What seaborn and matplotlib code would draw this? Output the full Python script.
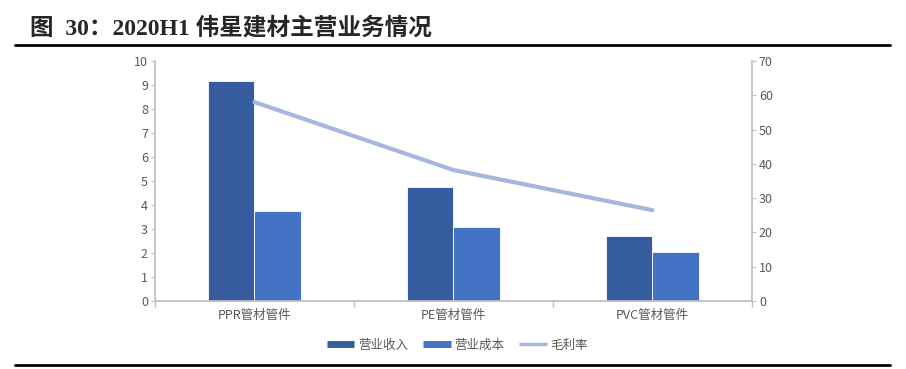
import pandas as pd
import seaborn as sns
import matplotlib.pyplot as plt
from matplotlib.lines import Line2D

categories = ["PPR管材管件", "PE管材管件", "PVC管材管件"]
revenue = [9.15, 4.75, 2.70]
cost = [3.75, 3.08, 2.06]
margin = [58.0, 38.2, 26.5]

sns.set_theme(style="white")
plt.rcParams['font.family'] = ['Noto Sans CJK SC', 'DejaVu Sans']

df = pd.DataFrame({
    "cat": categories * 2,
    "val": revenue + cost,
    "series": ["营业收入"] * 3 + ["营业成本"] * 3,
})
dm = pd.DataFrame({"cat": categories, "val": margin})

c_rev = "#345C9F"
c_cost = "#4472C4"
c_line = "#A7B6DE"
grey = "#595959"
spine = "#BFBFBF"

fig = plt.figure(figsize=(9.06, 3.69), dpi=100)
ax = fig.add_axes([0.171, 0.184, 0.659, 0.651])

sns.barplot(data=df, x="cat", y="val", hue="series", palette=[c_rev, c_cost],
            width=0.47, ax=ax, legend=False, saturation=1,
            edgecolor="white", linewidth=0.6)
ax.set_xlim(-0.5, 2.5)
ax.set_ylim(0, 10)
ax.set_yticks(range(0, 11))
ax.set_xlabel("")
ax.set_ylabel("")

ax2 = ax.twinx()
sns.lineplot(data=dm, x="cat", y="val", color=c_line, linewidth=3, ax=ax2)
ax2.set_ylim(0, 70)
ax2.set_yticks(range(0, 71, 10))
ax2.set_ylabel("")
ax.set_xlim(-0.5, 2.5)

for a in (ax, ax2):
    for s in a.spines.values():
        s.set_visible(False)
    a.tick_params(axis="y", colors=grey, labelsize=9, length=3, width=0.8)
    a.tick_params(axis="y", color=spine)
ax.spines["left"].set_visible(True)
ax.spines["left"].set_color(spine)
ax.spines["bottom"].set_visible(True)
ax.spines["bottom"].set_color(spine)
ax2.spines["right"].set_visible(True)
ax2.spines["right"].set_color(spine)
ax.tick_params(axis="y", left=True, pad=2)
ax2.tick_params(axis="y", right=True, pad=2)

# category labels centred, boundary ticks
ax.set_xticks([0, 1, 2])
ax.set_xticklabels(categories)
ax.tick_params(axis="x", length=0, colors=grey, labelsize=9, pad=6)
ax.set_xticks([-0.5, 0.5, 1.5, 2.5], minor=True)
ax.tick_params(axis="x", which="minor", length=4, color=spine, bottom=True)

handles = [Line2D([], [], color=c_rev, lw=5, solid_capstyle="butt"),
           Line2D([], [], color=c_cost, lw=5, solid_capstyle="butt"),
           Line2D([], [], color=c_line, lw=2.5, solid_capstyle="butt")]
fig.legend(handles, ["营业收入", "营业成本", "毛利率"], loc="center",
           bbox_to_anchor=(0.505, 0.065), ncol=3, frameon=False,
           fontsize=9, labelcolor=grey, handlelength=2.2, columnspacing=1.2,
           handletextpad=0.3)

fig.text(30 / 906, 1 - 28 / 369, "图  30：2020H1 伟星建材主营业务情况",
         fontsize=17, fontweight="bold", va="center", ha="left",
         family=['Liberation Serif', 'Noto Sans CJK SC'])
fig.add_artist(Line2D([15 / 906, 890 / 906], [1 - 45 / 369] * 2, color="black", lw=2))
fig.add_artist(Line2D([15 / 906, 890 / 906], [1 - 365 / 369] * 2, color="black", lw=2))

fig.savefig("out.png", dpi=100)
